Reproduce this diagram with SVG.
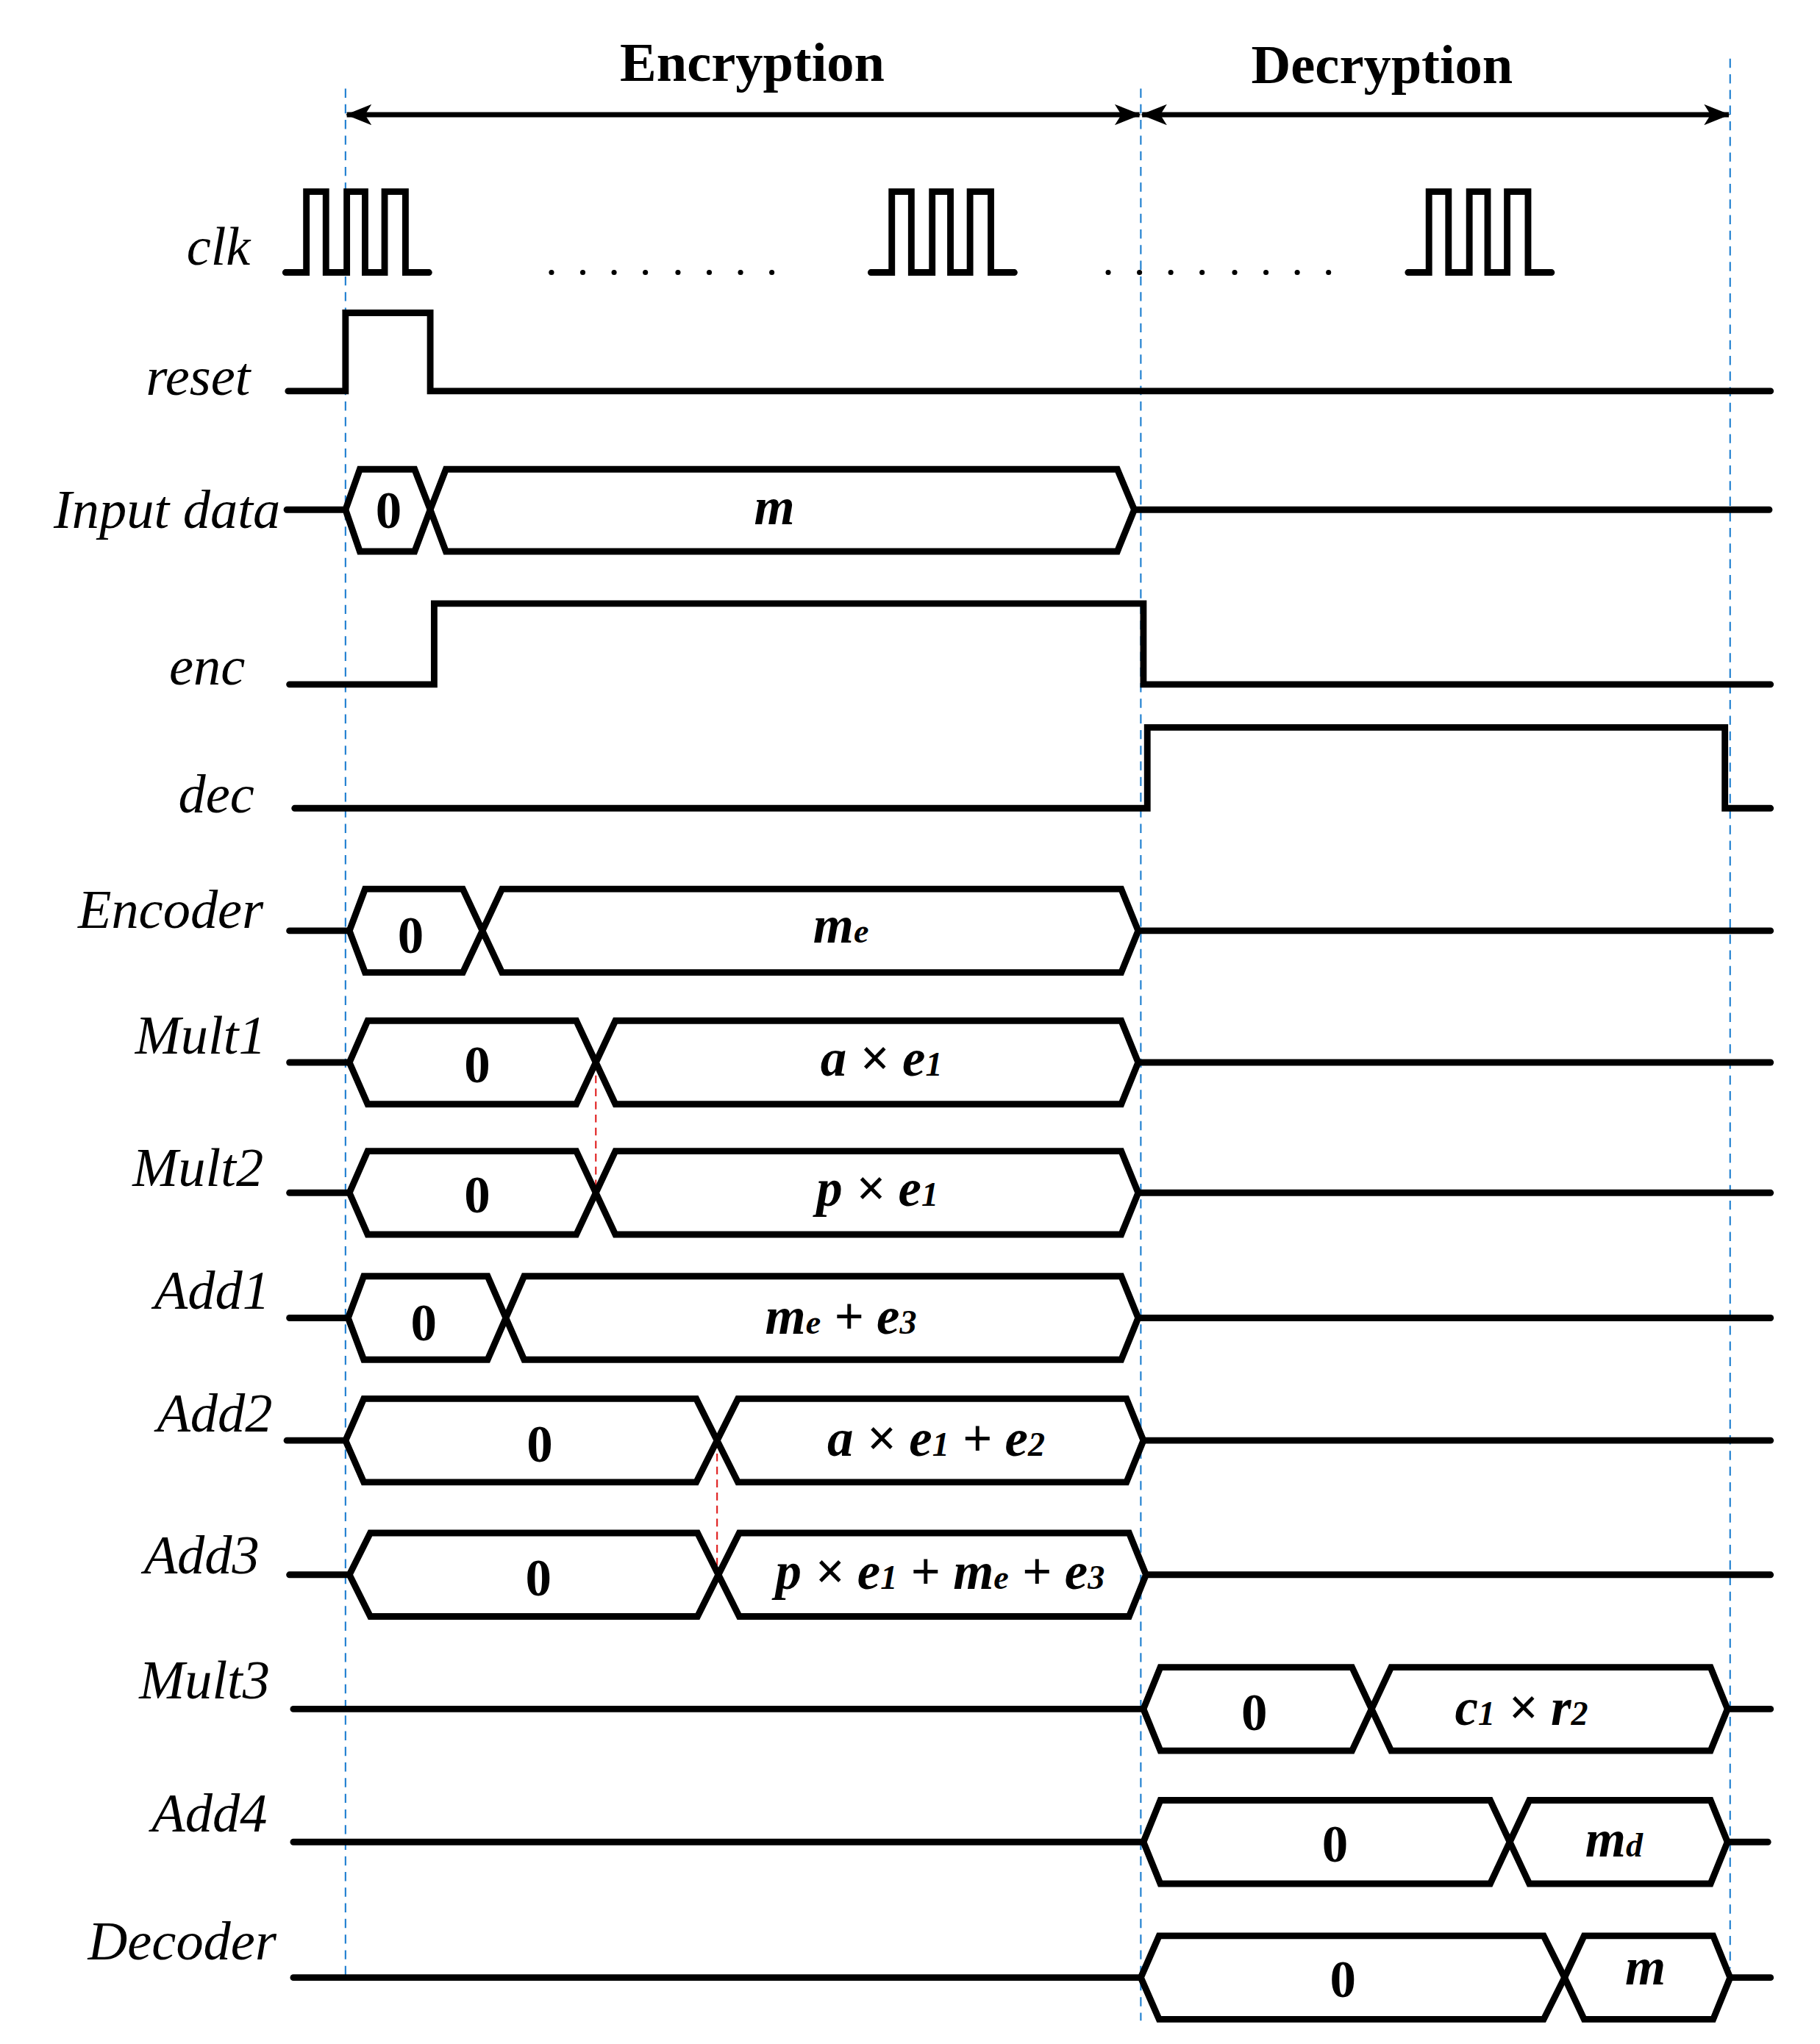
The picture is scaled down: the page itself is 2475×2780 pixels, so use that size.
<svg xmlns="http://www.w3.org/2000/svg" width="2475" height="2780" viewBox="0 0 2475 2780">
<style>
.w{fill:none;stroke:#000;stroke-width:5;stroke-linejoin:miter;stroke-linecap:round}
.b{fill:none;stroke:#000;stroke-width:5;stroke-linejoin:miter}
.bl{stroke:#1f7fd0;stroke-width:1.2;stroke-dasharray:7,5;fill:none}
.rd{stroke:#e02020;stroke-width:1.2;stroke-dasharray:6,4;fill:none}
.lab{font-family:"Liberation Serif","DejaVu Serif",serif;font-style:italic;font-size:42px;text-anchor:end}
.tt{font-family:"Liberation Serif","DejaVu Serif",serif;font-weight:bold;font-size:42px;text-anchor:middle}
.v{font-family:"Liberation Serif","DejaVu Serif",serif;font-weight:bold;font-style:italic;font-size:40px;text-anchor:middle}
.z{font-family:"Liberation Serif","DejaVu Serif",serif;font-weight:bold;font-size:40px;text-anchor:middle}
.s{font-size:26px}
.dot{fill:#000}
</style>
<defs>
<marker id="ah" markerWidth="20" markerHeight="16" refX="19" refY="8" orient="auto-start-reverse" markerUnits="userSpaceOnUse"><path d="M0,0 L20,8 L0,16 L5,8 Z" fill="#000"/></marker>
</defs>
<rect width="2475" height="2780" fill="#fff"/>
<g transform="scale(1.773)">
<g id="guides">
<line class="bl" x1="265" y1="68" x2="265" y2="1515"/>
<line class="bl" x1="875" y1="68" x2="875" y2="1550"/>
<line class="bl" x1="1327" y1="45" x2="1327" y2="1510"/>
<line class="rd" x1="457" y1="815" x2="457" y2="915"/>
<line class="rd" x1="550" y1="1105" x2="550" y2="1207"/>
</g>
<g id="phases">
<text class="tt" x="577" y="62">Encryption</text>
<text class="tt" x="1060" y="64">Decryption</text>
<line x1="266" y1="88" x2="874" y2="88" stroke="#000" stroke-width="4" marker-start="url(#ah)" marker-end="url(#ah)"/>
<line x1="876" y1="88" x2="1326" y2="88" stroke="#000" stroke-width="4" marker-start="url(#ah)" marker-end="url(#ah)"/>
</g>
<g id="clk">
<text class="lab" x="192" y="203">clk</text>
<path class="w" d="M219,209 H235 V147 H250 V209 H266 V147 H280 V209 H295 V147 H311 V209 H329"/>
<path class="w" transform="translate(449,0)" d="M219,209 H235 V147 H250 V209 H266 V147 H280 V209 H295 V147 H311 V209 H329"/>
<path class="w" transform="translate(861,0)" d="M219,209 H235 V147 H250 V209 H266 V147 H280 V209 H295 V147 H311 V209 H329"/>
<g class="dot">
<circle cx="423" cy="209" r="2"/><circle cx="447" cy="209" r="2"/><circle cx="471" cy="209" r="2"/><circle cx="495" cy="209" r="2"/><circle cx="520" cy="209" r="2"/><circle cx="544" cy="209" r="2"/><circle cx="568" cy="209" r="2"/><circle cx="592" cy="209" r="2"/>
<circle cx="850" cy="209" r="2"/><circle cx="874" cy="209" r="2"/><circle cx="898" cy="209" r="2"/><circle cx="922" cy="209" r="2"/><circle cx="947" cy="209" r="2"/><circle cx="971" cy="209" r="2"/><circle cx="995" cy="209" r="2"/><circle cx="1019" cy="209" r="2"/>
</g>
</g>
<g id="reset">
<text class="lab" x="192" y="303">reset</text>
<path class="w" d="M221,300 H265 V240 H330 V300 H1358"/>
</g>
<g id="input">
<text class="lab" x="215" y="405">Input data</text>
<path class="w" d="M220,391 H265"/>
<path class="b" d="M265,391 L276,360 H318 L330,391 L318,423 H276 Z"/>
<path class="b" d="M330,391 L342,360 H857 L870,391 L857,423 H342 Z"/>
<path class="w" d="M870,391 H1357"/>
<text class="z" x="298" y="405">0</text>
<text class="v" x="594" y="402">m</text>
</g>
<g id="enc">
<text class="lab" x="188" y="525">enc</text>
<path class="w" d="M222,525 H333 V463 H877 V525 H1358"/>
</g>
<g id="dec">
<text class="lab" x="195" y="623">dec</text>
<path class="w" d="M226,620 H880 V558 H1323 V620 H1358"/>
</g>
<g id="encoder">
<text class="lab" x="202" y="712">Encoder</text>
<path class="w" d="M222,714 H268"/>
<path class="b" d="M268,714 L280,682 H355 L370,714 L355,746 H280 Z"/>
<path class="b" d="M370,714 L385,682 H860 L873,714 L860,746 H385 Z"/>
<path class="w" d="M873,714 H1358"/>
<text class="z" x="315" y="731">0</text>
<text class="v" x="645" y="723">m<tspan class="s">e</tspan></text>
</g>
<g id="mult1">
<text class="lab" x="204" y="808">Mult1</text>
<path class="w" d="M222,815 H268"/>
<path class="b" d="M268,815 L282,783 H442 L457,815 L442,847 H282 Z"/>
<path class="b" d="M457,815 L472,783 H860 L873,815 L860,847 H472 Z"/>
<path class="w" d="M873,815 H1358"/>
<text class="z" x="366" y="830">0</text>
<text class="v" x="676" y="825">a × e<tspan class="s">1</tspan></text>
</g>
<g id="mult2">
<text class="lab" x="202" y="910">Mult2</text>
<path class="w" d="M222,915 H268"/>
<path class="b" d="M268,915 L282,883 H442 L457,915 L442,947 H282 Z"/>
<path class="b" d="M457,915 L472,883 H860 L873,915 L860,947 H472 Z"/>
<path class="w" d="M873,915 H1358"/>
<text class="z" x="366" y="930">0</text>
<text class="v" x="673" y="925">p × e<tspan class="s">1</tspan></text>
</g>
<g id="add1">
<text class="lab" x="207" y="1004">Add1</text>
<path class="w" d="M222,1011 H267"/>
<path class="b" d="M267,1011 L279,979 H374 L388,1011 L374,1043 H279 Z"/>
<path class="b" d="M388,1011 L402,979 H860 L873,1011 L860,1043 H402 Z"/>
<path class="w" d="M873,1011 H1358"/>
<text class="z" x="325" y="1028">0</text>
<text class="v" x="645" y="1023">m<tspan class="s">e</tspan> + e<tspan class="s">3</tspan></text>
</g>
<g id="add2">
<text class="lab" x="209" y="1098">Add2</text>
<path class="w" d="M220,1105 H265"/>
<path class="b" d="M265,1105 L279,1073 H534 L550,1105 L534,1137 H279 Z"/>
<path class="b" d="M550,1105 L566,1073 H864 L877,1105 L864,1137 H566 Z"/>
<path class="w" d="M877,1105 H1358"/>
<text class="z" x="414" y="1121">0</text>
<text class="v" x="718" y="1117">a × e<tspan class="s">1</tspan> + e<tspan class="s">2</tspan></text>
</g>
<g id="add3">
<text class="lab" x="199" y="1207">Add3</text>
<path class="w" d="M222,1208 H268"/>
<path class="b" d="M268,1208 L284,1176 H535 L551,1208 L535,1240 H284 Z"/>
<path class="b" d="M551,1208 L567,1176 H866 L879,1208 L866,1240 H567 Z"/>
<path class="w" d="M879,1208 H1358"/>
<text class="z" x="413" y="1224">0</text>
<text class="v" x="721" y="1219">p × e<tspan class="s">1</tspan> + m<tspan class="s">e</tspan> + e<tspan class="s">3</tspan></text>
</g>
<g id="mult3">
<text class="lab" x="207" y="1303">Mult3</text>
<path class="w" d="M225,1311 H877"/>
<path class="b" d="M877,1311 L890,1279 H1037 L1052,1311 L1037,1343 H890 Z"/>
<path class="b" d="M1052,1311 L1067,1279 H1312 L1325,1311 L1312,1343 H1067 Z"/>
<path class="w" d="M1325,1311 H1358"/>
<text class="z" x="962" y="1327">0</text>
<text class="v" x="1167" y="1323">c<tspan class="s">1</tspan> × r<tspan class="s">2</tspan></text>
</g>
<g id="add4">
<text class="lab" x="205" y="1405">Add4</text>
<path class="w" d="M225,1413 H877"/>
<path class="b" d="M877,1413 L890,1381 H1143 L1158,1413 L1143,1445 H890 Z"/>
<path class="b" d="M1158,1413 L1173,1381 H1312 L1325,1413 L1312,1445 H1173 Z"/>
<path class="w" d="M1325,1413 H1356"/>
<text class="z" x="1024" y="1428">0</text>
<text class="v" x="1238" y="1424">m<tspan class="s">d</tspan></text>
</g>
<g id="decoder">
<text class="lab" x="212" y="1503">Decoder</text>
<path class="w" d="M225,1517 H875"/>
<path class="b" d="M875,1517 L889,1485 H1184 L1200,1517 L1184,1549 H889 Z"/>
<path class="b" d="M1200,1517 L1215,1485 H1314 L1327,1517 L1314,1549 H1215 Z"/>
<path class="w" d="M1327,1517 H1358"/>
<text class="z" x="1030" y="1532">0</text>
<text class="v" x="1262" y="1522">m</text>
</g>
</g>
</svg>
